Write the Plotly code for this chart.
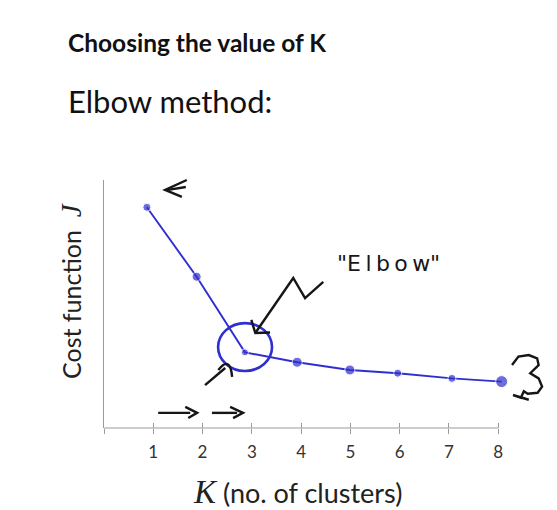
import plotly.graph_objects as go

# Elbow-method sketch: cost J against number of clusters K
k_drawn = [0.87, 1.88, 2.86, 3.92, 4.99, 5.96, 7.06, 8.07]
cost_j = [8.90, 6.10, 3.05, 2.65, 2.34, 2.21, 2.00, 1.87]
tick_vals = [0, 1, 2, 3, 4, 5, 6, 7, 8]
tick_text = ["", "1", "2", "3", "4", "5", "6", "7", "8"]

AXIS_END = 8          # last tick; the drawn axis line stops here
X_RANGE = (0, 8.3)    # a little room past the last tick for the final point
Y_RANGE = (0, 10)
INK_BLUE = "#2f2fd0"
INK_BLACK = "#161616"
AXIS_GREY = "#9a9a9a"
SANS = "Lato"


def paper(x, y):
    """Axis units -> paper units, so pen strokes are not clipped to the plot."""
    return ((x - X_RANGE[0]) / (X_RANGE[1] - X_RANGE[0]),
            (y - Y_RANGE[0]) / (Y_RANGE[1] - Y_RANGE[0]))


def stroke(points):
    parts = []
    for i, (x, y) in enumerate(points):
        px, py = paper(x, y)
        parts.append(("M" if i == 0 else "L") + f"{px:.4f},{py:.4f}")
    return " ".join(parts)


def pen(path, color=INK_BLACK, width=2.4):
    return dict(type="path", xref="paper", yref="paper", path=path,
                line=dict(color=color, width=width), layer="above")


fig = go.Figure()
fig.add_trace(go.Scatter(
    x=k_drawn, y=cost_j, mode="lines+markers", cliponaxis=False,
    line=dict(color=INK_BLUE, width=1.9),
    marker=dict(color=INK_BLUE, size=[8, 9, 7, 10, 10, 8, 8, 12]),
    hoverinfo="skip", showlegend=False,
))
# invisible overlay axis: gives the x ticks their upward half
fig.add_trace(go.Scatter(x=[None], y=[None], xaxis="x2", showlegend=False))

shapes = []
# x axis line, stopping at the last tick
ax0, _ = paper(X_RANGE[0], 0)
ax1, _ = paper(AXIS_END, 0)
shapes.append(dict(type="line", xref="paper", yref="paper", x0=ax0, x1=ax1, y0=0, y1=0,
                   line=dict(color=AXIS_GREY, width=1.2), layer="below"))
# arrow pointing at K = 1
shapes.append(pen(stroke([(1.68, 10.0), (1.24, 9.60), (1.58, 9.32)])))
shapes.append(pen(stroke([(1.30, 9.60), (1.66, 9.72)])))
# circle round the elbow
cx0, cy0 = paper(2.315, 2.30)
cx1, cy1 = paper(3.41, 4.23)
shapes.append(dict(type="circle", xref="paper", yref="paper",
                   x0=cx0, y0=cy0, x1=cx1, y1=cy1,
                   line=dict(color=INK_BLUE, width=2.6), layer="above"))
# zig-zag arrow from the upper right
shapes.append(pen(stroke([(4.45, 5.89), (4.08, 5.24), (3.84, 6.05), (3.07, 3.83)])))
shapes.append(pen(stroke([(2.99, 4.36), (3.07, 3.83), (3.37, 3.85)])))
# arrow from the lower left
shapes.append(pen(stroke([(2.05, 1.73), (2.46, 2.42)])))
p0, p1, p2 = paper(2.32, 2.34), paper(2.56, 2.94), paper(2.60, 2.06)
shapes.append(pen(f"M{p0[0]:.4f},{p0[1]:.4f} Q{p1[0]:.4f},{p1[1]:.4f} {p2[0]:.4f},{p2[1]:.4f}"))
# increasing-K arrows along the axis
shapes.append(pen(stroke([(1.10, 0.61), (1.75, 0.61)])))
shapes.append(pen(stroke([(1.65, 0.85), (1.89, 0.61), (1.71, 0.40)])))
shapes.append(pen(stroke([(2.19, 0.61), (2.70, 0.61)])))
shapes.append(pen(stroke([(2.56, 0.85), (2.82, 0.61), (2.62, 0.40)])))
# squiggle after K = 8
shapes.append(pen(stroke([(8.28, 2.54), (8.41, 2.88), (8.62, 2.94), (8.79, 2.81),
                          (8.82, 2.54), (8.65, 2.21), (8.82, 2.00), (8.89, 1.67),
                          (8.80, 1.42), (8.60, 1.38), (8.52, 1.48), (8.46, 1.22),
                          (8.30, 1.33), (8.62, 1.14)])))

annotations = [
    dict(text="<b>Choosing the value of K</b>", xref="paper", yref="paper",
         x=paper(-0.78, 0)[0], y=(428 - 42) / 248, xanchor="left", yanchor="middle",
         showarrow=False, font=dict(family=SANS, size=24.5, color="#111111")),
    dict(text="Elbow method:", xref="paper", yref="paper",
         x=paper(-0.78, 0)[0], y=(428 - 101) / 248, xanchor="left", yanchor="middle",
         showarrow=False, font=dict(family=SANS, size=31, color="#111111")),
    dict(text='<span style="font-family:Liberation Serif;font-size:33px"><i>K</i></span> (no. of clusters)',
         xref="x", yref="paper", x=3.92, y=(428 - 492) / 248,
         xanchor="center", yanchor="middle", showarrow=False,
         font=dict(family=SANS, size=27, color="#222222")),
    dict(text='Cost function  <span style="font-family:Liberation Serif;font-size:29px"><i>J</i></span>',
         xref="paper", yref="paper", x=paper(-0.67, 0)[0], y=(428 - 291) / 248,
         xanchor="center", yanchor="middle", textangle=-90, showarrow=False,
         font=dict(family=SANS, size=25, color="#222222")),
    dict(text='"E\u2009l\u2009b\u2009o\u2009w"', xref="x", yref="y", x=5.77, y=6.65,
         xanchor="center", yanchor="middle", showarrow=False,
         font=dict(family="DejaVu Sans", size=22, color=INK_BLACK)),
]

fig.update_layout(
    width=557, height=510,
    margin=dict(l=104, r=44, t=180, b=82),
    paper_bgcolor="white", plot_bgcolor="white",
    shapes=shapes, annotations=annotations,
    xaxis=dict(range=list(X_RANGE), tickvals=tick_vals, ticktext=tick_text,
               showgrid=False, zeroline=False, showline=False,
               ticks="outside", ticklen=5, tickcolor=AXIS_GREY,
               tickwidth=1.2, tickfont=dict(family=SANS, size=17, color="#333333"),
               ticklabelstandoff=4),
    xaxis2=dict(range=list(X_RANGE), overlaying="x", side="bottom", anchor="y",
                tickvals=tick_vals, showticklabels=False, showgrid=False,
                zeroline=False, showline=False, ticks="inside", ticklen=5,
                tickcolor=AXIS_GREY, tickwidth=1.2),
    yaxis=dict(range=list(Y_RANGE), showgrid=False, zeroline=False, showline=True,
               linecolor=AXIS_GREY, linewidth=1.2, ticks="", showticklabels=False),
)

fig.write_html("out.html")
